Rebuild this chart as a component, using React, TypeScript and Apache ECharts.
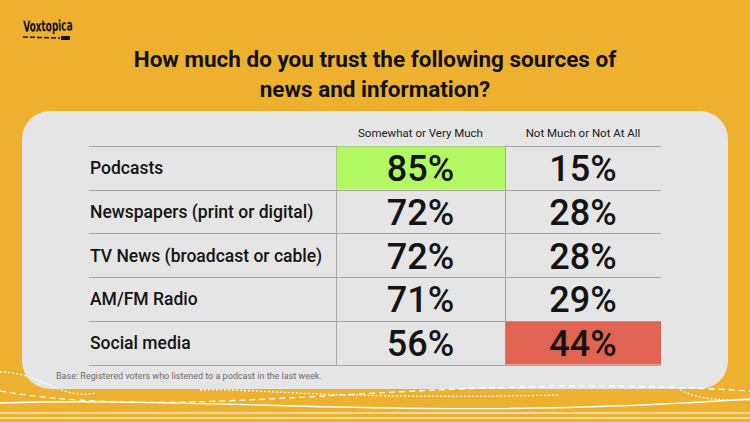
import React, { useEffect, useRef } from "react";
import * as echarts from "echarts";

const title = "How much do you trust the following sources of\nnews and information?";
const sources = [
  "Podcasts",
  "Newspapers (print or digital)",
  "TV News (broadcast or cable)",
  "AM/FM Radio",
  "Social media",
];
const columnHeaders = ["Somewhat or Very Much", "Not Much or Not At All"];
const trustValues = [85, 72, 72, 71, 56];
const distrustValues = [15, 28, 28, 29, 44];
const highlightTrust = ["Podcasts"];
const highlightDistrust = ["Social media"];
const footnote = "Base: Registered voters who listened to a podcast in the last week.";

const FONT = "Roboto, 'Noto Sans', sans-serif";
const LINE = "#a6a6a6";

function cellSeries(
  values: number[],
  highlights: string[],
  fillColor: string,
  idx: number
) {
  return {
    type: "custom",
    xAxisIndex: idx,
    yAxisIndex: idx,
    encode: { x: 0, y: 1 },
    data: values.map((v, i) => [0, i, v, highlights.includes(sources[i]) ? 1 : 0]),
    renderItem: (params: any, api: any) => {
      const c = api.coord([api.value(0), api.value(1)]);
      const s = api.size([1, 1]);
      const hl = api.value(3) === 1;
      const children: any[] = [];
      if (hl) {
        children.push({
          type: "rect",
          shape: { x: c[0] - s[0] / 2 + 0.5, y: c[1] - s[1] / 2 + 0.5, width: s[0] - 0.5, height: s[1] - 1 },
          style: { fill: fillColor },
        });
      }
      children.push({
        type: "text",
        x: c[0],
        y: c[1] + 1,
        style: {
          text: api.value(2) + "%",
          fontSize: 36,
          fontWeight: 500,
          fontFamily: FONT,
          fill: "#141414",
          align: "center",
          verticalAlign: "middle",
        },
      });
      return { type: "group", children };
    },
    z: 3,
  };
}

export default function App() {
  const ref = useRef<HTMLDivElement>(null);
  useEffect(() => {
    if (!ref.current) return;
    const chart = echarts.init(ref.current, undefined, { renderer: "svg" });
    const catY = (showLine: boolean, showSplit: boolean, showLabel: boolean) => ({
      type: "category",
      data: sources,
      inverse: true,
      axisTick: { show: false },
      axisLine: { show: showLine, lineStyle: { color: LINE, width: 1 } },
      splitLine: { show: showSplit, lineStyle: { color: LINE, width: 1 } },
      axisLabel: showLabel
        ? {
            show: true,
            inside: true,
            margin: 1,
            align: "left",
            fontSize: 17.5,
            fontWeight: 500,
            fontFamily: FONT,
            color: "#141414",
          }
        : { show: false },
    });
    const headerX = (name: string) => ({
      type: "category",
      data: [name],
      position: "top",
      axisTick: { show: false },
      axisLine: { show: false },
      splitLine: { show: false },
      axisLabel: {
        show: true,
        margin: 7,
        fontSize: 11.5,
        fontFamily: FONT,
        color: "#1a1a1a",
      },
    });
    const option: any = {
      animation: false,
      backgroundColor: "#EDB12F",
      grid: [
        { left: 89, right: 89, top: 146, bottom: 57 },
        { left: 336, right: 245, top: 146, bottom: 57 },
        { left: 505, right: 89, top: 146, bottom: 57 },
      ],
      xAxis: [
        { type: "value", gridIndex: 0, show: false },
        { ...headerX(columnHeaders[0]), gridIndex: 1 },
        { ...headerX(columnHeaders[1]), gridIndex: 2 },
      ],
      yAxis: [
        { ...catY(false, true, true), gridIndex: 0 },
        { ...catY(true, false, false), gridIndex: 1 },
        { ...catY(true, false, false), gridIndex: 2 },
      ],
      series: [
        cellSeries(trustValues, highlightTrust, "#B1F862", 1),
        cellSeries(distrustValues, highlightDistrust, "#E06451", 2),
      ],
      graphic: [
        {
          type: "rect",
          z: -10,
          shape: { x: 22, y: 111, width: 706, height: 278, r: 28 },
          style: { fill: "#E5E5E5" },
        },
        {
          type: "text",
          x: 375,
          y: 44,
          style: {
            text: title,
            fontSize: 22.5,
            fontWeight: "bold",
            fontFamily: FONT,
            fill: "#111",
            align: "center",
            verticalAlign: "top",
            lineHeight: 30,
          },
        },
        {
          type: "text",
          x: 56,
          y: 376,
          style: {
            text: footnote,
            fontSize: 9,
            fontFamily: FONT,
            fill: "#6b6b6b",
            verticalAlign: "middle",
          },
        },
        {
          type: "text",
          x: 23,
          y: 19,
          rotation: 0.03,
          scaleX: 0.66,
          style: {
            text: "Voxtopica",
            fontSize: 15,
            fontWeight: "bold",
            fontFamily: "'DejaVu Sans Condensed', 'Liberation Sans Narrow', sans-serif",
            fill: "#111",
          },
        },
        {
          type: "line",
          shape: { x1: 23, y1: 37, x2: 60, y2: 38 },
          style: { stroke: "#111", lineWidth: 1.5, lineDash: [5, 2] },
        },
        {
          type: "rect",
          shape: { x: 61, y: 36, width: 9, height: 4 },
          style: { fill: "#111" },
        },
        // decorative waves
        {
          type: "bezierCurve",
          shape: { x1: 0, y1: 403, cpx1: 220, cpy1: 396, cpx2: 420, cpy2: 422, x2: 750, y2: 399 },
          style: { stroke: "#fff", lineWidth: 1.3, fill: "none" },
        },
        {
          type: "bezierCurve",
          shape: { x1: 0, y1: 391, cpx1: 200, cpy1: 425, cpx2: 420, cpy2: 370, x2: 750, y2: 391 },
          style: { stroke: "#fff", lineWidth: 1.3, fill: "none", lineDash: [6, 4] },
        },
        {
          type: "bezierCurve",
          shape: { x1: 0, y1: 372, cpx1: 40, cpy1: 372, cpx2: 60, cpy2: 400, x2: 95, y2: 393 },
          style: { stroke: "#fff", lineWidth: 1.3, fill: "none", lineDash: [2, 2] },
        },
        {
          type: "bezierCurve",
          shape: { x1: 200, y1: 390, cpx1: 260, cpy1: 388, cpx2: 320, cpy2: 400, x2: 560, y2: 395 },
          style: { stroke: "#fff", lineWidth: 1.3, fill: "none", lineDash: [2, 2] },
        },
        {
          type: "bezierCurve",
          shape: { x1: 680, y1: 390, cpx1: 700, cpy1: 400, cpx2: 720, cpy2: 400, x2: 750, y2: 400 },
          style: { stroke: "#fff", lineWidth: 1.3, fill: "none", lineDash: [2, 2] },
        },
        {
          type: "line",
          shape: { x1: 0, y1: 413, x2: 750, y2: 413 },
          style: { stroke: "#fff", lineWidth: 1.2 },
        },
        {
          type: "line",
          shape: { x1: 0, y1: 418, x2: 750, y2: 418 },
          style: { stroke: "#fff", lineWidth: 1.2 },
        },
      ],
    };
    chart.setOption(option);
    return () => chart.dispose();
  }, []);
  return (
    <div
      ref={ref}
      style={{ position: "fixed", left: 0, top: 0, width: 750, height: 422 }}
    />
  );
}
